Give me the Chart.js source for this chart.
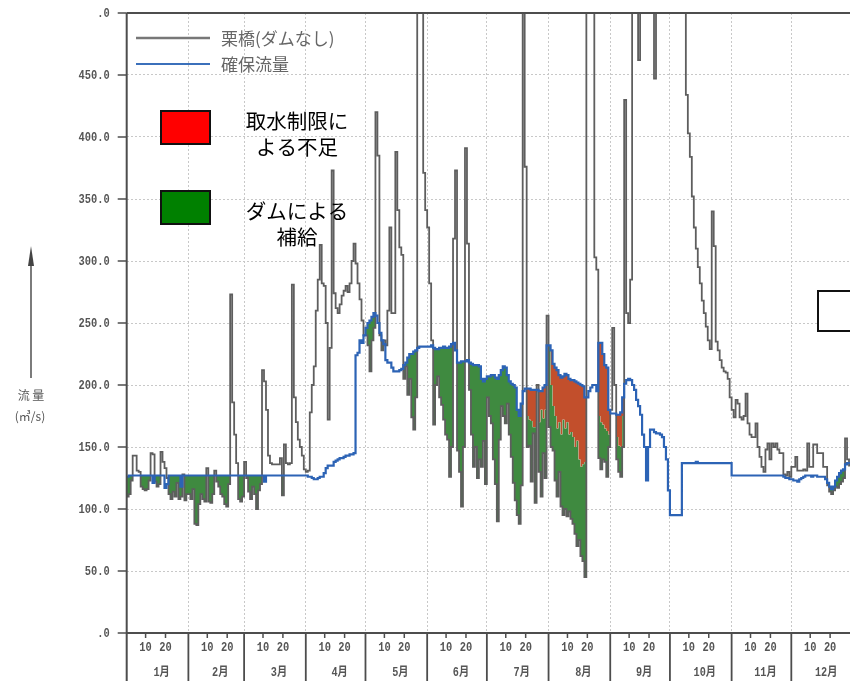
<!DOCTYPE html>
<html lang="ja">
<head>
<meta charset="utf-8">
<title>栗橋地点 流況図</title>
<script src="https://cdn.jsdelivr.net/npm/chart.js@4.4.1/dist/chart.umd.min.js"></script>
<style>
  html, body { margin: 0; padding: 0; background: #fff; overflow: hidden; }
  #wrap { width: 880px; height: 681px; }
</style>
</head>
<body>
<div id="wrap"><canvas id="c" width="880" height="681"></canvas></div>
<script>
// Month table of the x axis
const months = ['1月','2月','3月','4月','5月','6月','7月','8月','9月','10月','11月','12月'];
const monthDays = [31,28,31,30,31,30,31,31,30,31,30,31];
const dayTickLabels = ['10','20'];

// Flow axis (m3/s)
const yTickValues = [0,50,100,150,200,250,300,350,400,450,500];
const yTickLabels = ['.0','50.0','100.0','150.0','200.0','250.0','300.0','350.0','400.0','450.0','.0'];

// Daily flow at Kurihashi without dams, Jan 1 .. Dec 31
const natural = [
  110,112,123,143,143,131,130,118,116,115,116,123,145,144,122,118,120,146,138,133,125,112,108,114,110,121,108,110,128,107,112,
  112,108,116,88,87,104,112,108,106,133,106,105,112,131,122,118,112,110,104,102,120,273,186,160,137,108,106,110,
  138,125,114,108,118,112,100,115,120,212,203,180,143,137,136,136,136,136,141,111,152,137,136,137,281,190,170,156,150,143,132,
  130,131,178,200,215,260,285,313,282,280,250,172,230,373,274,262,258,265,272,276,280,275,282,300,314,298,282,269,252,240,
  240,232,211,236,246,420,385,240,228,236,232,260,327,258,258,388,341,311,305,205,215,192,205,174,164,190,600,600,560,371,341,
  327,282,236,168,200,207,190,184,172,160,156,126,150,318,373,147,130,102,150,391,314,196,160,134,150,125,140,134,155,120,
  190,175,169,140,120,90,156,183,175,169,185,160,142,121,107,95,88,119,600,376,150,151,122,161,105,200,130,110,145,125,256,
  166,150,147,123,110,130,102,95,100,94,98,92,88,80,70,75,62,58,45,560,620,600,540,303,293,141,132,140,138,126,150,
  180,246,200,140,130,126,150,430,258,250,285,600,640,600,462,620,680,700,700,680,650,600,447,560,640,700,700,680,660,640,
  620,600,600,580,560,560,540,520,434,403,384,352,327,310,295,282,268,258,247,236,229,340,312,235,228,220,214,211,210,205,190,
  180,174,188,185,174,172,175,193,169,160,158,158,169,150,142,134,130,148,153,140,153,150,153,148,145,145,128,127,130,126,
  134,134,142,131,131,131,132,131,153,134,134,152,152,145,145,145,134,134,119,114,112,115,118,117,120,122,125,157,140,135,135
];

// Secured (target) flow
const secured = [
  126,127,127,127,127,127,127,127,127,127,127,127,127,121,127,127,127,127,127,117,120,127,127,127,127,127,127,118,127,127,127,
  127,127,127,127,127,127,127,127,127,127,127,127,127,127,127,127,127,127,127,127,127,127,127,127,127,127,127,127,
  127,127,127,127,127,127,127,127,127,127,122,127,127,127,127,127,127,127,127,127,127,127,127,127,127,127,127,127,127,127,127,
  127,126,126,125,124,124,125,126,126,129,133,135,135,135,138,139,140,141,141,142,143,143,144,144,145,224,226,236,234,240,
  246,250,252,255,258,256,250,242,236,233,220,218,218,214,211,211,211,212,213,216,218,222,225,225,227,228,230,231,231,231,231,
  231,231,232,230,229,229,230,230,231,230,230,231,233,234,228,218,218,219,219,219,220,218,217,216,216,216,215,205,203,205,
  207,207,208,208,206,205,208,212,215,214,208,203,201,200,198,180,175,185,195,197,197,197,196,196,196,196,195,195,198,200,232,
  232,228,217,214,212,208,206,207,209,208,205,204,204,203,202,201,200,199,190,190,195,198,200,200,195,234,234,225,216,214,180,
  177,177,177,176,176,178,190,201,204,205,204,200,196,188,183,176,160,150,123,150,164,164,162,161,161,160,158,150,140,115,
  95,95,95,95,95,95,137,137,137,137,137,137,137,138,137,137,137,137,137,137,137,137,137,137,137,137,137,137,137,137,137,
  127,127,127,127,127,127,127,127,127,127,127,127,127,127,127,127,127,127,127,127,127,127,127,127,127,127,126,125,125,124,
  124,123,123,122,124,125,126,127,127,127,126,127,127,126,126,126,126,124,121,118,116,118,123,126,129,131,132,136,137,137,137
];

// Shortfall left by intake restriction (part of the gap not covered by dam release)
const shortage = [
  0,0,0,0,0,0,0,0,0,0,0,0,0,0,0,0,0,0,0,0,0,0,0,0,0,0,0,0,0,0,0,
  0,0,0,0,0,0,0,0,0,0,0,0,0,0,0,0,0,0,0,0,0,0,0,0,0,0,0,0,
  0,0,0,0,0,0,0,0,0,0,0,0,0,0,0,0,0,0,0,0,0,0,0,0,0,0,0,0,0,0,0,
  0,0,0,0,0,0,0,0,0,0,0,0,0,0,0,0,0,0,0,0,0,0,0,0,0,0,0,0,0,0,
  0,0,0,0,0,0,0,0,0,0,0,0,0,0,0,0,0,0,0,0,0,0,0,0,0,0,0,0,0,0,0,
  0,0,0,0,0,0,0,0,0,0,0,0,0,0,0,0,0,0,0,0,0,0,0,0,0,0,0,0,0,0,
  0,0,0,0,0,0,0,0,0,0,0,0,0,0,0,0,0,0,0,0,22,25,25,30,30,0,25,15,25,20,0,
  0,28,34,39,47,38,46,35,44,38,45,42,46,53,47,61,66,63,52,0,0,0,0,0,0,59,64,57,51,51,20,
  0,0,0,18,25,28,15,0,0,0,0,0,0,0,0,0,0,0,0,0,0,0,0,0,0,0,0,0,0,0,
  0,0,0,0,0,0,0,0,0,0,0,0,0,0,0,0,0,0,0,0,0,0,0,0,0,0,0,0,0,0,0,
  0,0,0,0,0,0,0,0,0,0,0,0,0,0,0,0,0,0,0,0,0,0,0,0,0,0,0,0,0,0,
  0,0,0,0,0,0,0,0,0,0,0,0,0,0,0,0,0,0,0,0,0,0,0,0,0,0,0,0,0,0,0
];

const GRAY = '#5e5e5e';
const BLUE = '#2c63b5';
const GREEN = '#3f8a40';
const RED = '#c24f2c';

// Month start days (0-based day of year)
const monthStarts = [];
monthDays.reduce((acc, n) => { monthStarts.push(acc); return acc + n; }, 0);
monthStarts.push(365);

// Upper edge of the dam-supply band: natural flow lifted toward the target,
// short of it by the restriction shortfall
const supplyTop = natural.map((n, i) =>
  n < secured[i] ? Math.max(n, secured[i] - shortage[i]) : n);

// Step points: each day's value holds from day i to day i+1
const steps = arr => arr.map((v, i) => ({x: i, y: v}))
  .concat([{x: arr.length, y: arr[arr.length - 1]}]);

function condensedText(ctx, text, x, y, align, sx) {
  ctx.save();
  ctx.translate(x, y);
  ctx.scale(sx, 1);
  ctx.textAlign = align;
  ctx.fillText(text, 0, 0);
  ctx.restore();
}

function seg(ctx, x1, y1, x2, y2) {
  ctx.beginPath(); ctx.moveTo(x1, y1); ctx.lineTo(x2, y2); ctx.stroke();
}

const decor = {
  id: 'decor',
  afterDraw(chart) {
    const {ctx, chartArea: a, scales: {x, y}} = chart;
    const H = chart.height;
    ctx.save();
    ctx.lineCap = 'butt';

    // frame: top edge and left axis running down through the month table
    ctx.strokeStyle = '#4d4d4d';
    ctx.lineWidth = 2;
    seg(ctx, a.left, a.top, a.right, a.top);
    seg(ctx, a.left, a.top, a.left, H);

    // y ticks and labels
    ctx.fillStyle = '#555';
    ctx.font = 'bold 13px "Liberation Mono"';
    ctx.textBaseline = 'middle';
    ctx.lineWidth = 1.5;
    yTickValues.forEach((v, i) => {
      const py = y.getPixelForValue(v);
      seg(ctx, a.left - 9, py, a.left, py);
      condensedText(ctx, yTickLabels[i], a.left - 17, py + 1, 'right', 0.8);
    });

    // x table: 10/20 ticks, month separators, month names
    monthDays.forEach((n, m) => {
      const s = monthStarts[m];
      [9.5, 19.5].forEach((off, k) => {
        const px = x.getPixelForValue(s + off);
        ctx.lineWidth = 1.5;
        seg(ctx, px, a.bottom, px, a.bottom + 5);
        ctx.font = 'bold 13px "Liberation Mono"';
        condensedText(ctx, dayTickLabels[k], px, a.bottom + 15, 'center', 0.8);
      });
      const pxEnd = x.getPixelForValue(monthStarts[m + 1]);
      ctx.lineWidth = 1.8;
      seg(ctx, pxEnd, a.bottom, pxEnd, H);
      const pc = (x.getPixelForValue(s) + pxEnd) / 2 + 4;
      ctx.font = 'bold 12px "Liberation Mono", "Noto Sans CJK JP"';
      condensedText(ctx, months[m], pc, a.bottom + 40, 'center', 0.85);
    });

    // axis title with arrow
    ctx.strokeStyle = '#444';
    ctx.fillStyle = '#444';
    ctx.lineWidth = 1.4;
    seg(ctx, 31, 378, 31, 258);
    ctx.beginPath();
    ctx.moveTo(31, 246); ctx.lineTo(34, 266); ctx.lineTo(28, 266); ctx.closePath(); ctx.fill();
    ctx.fillStyle = '#555';
    ctx.font = '12px "Noto Sans CJK JP"';
    ctx.textAlign = 'center';
    ctx.fillText('流 量', 31, 395);
    ctx.fillText('(㎥/s)', 30, 416);

    // legend: lines
    ctx.lineWidth = 2.4;
    ctx.strokeStyle = '#777';
    seg(ctx, 136, 38, 210, 38);
    ctx.lineWidth = 2;
    ctx.strokeStyle = '#3b70bb';
    seg(ctx, 136, 64, 210, 64);
    ctx.fillStyle = '#666';
    ctx.font = '17px "Noto Sans CJK JP"';
    ctx.textAlign = 'left';
    ctx.fillText(chart.data.datasets[0].label, 221, 39);
    ctx.fillText(chart.data.datasets[2].label, 221, 65);

    // legend: areas
    ctx.lineWidth = 2;
    ctx.strokeStyle = '#111';
    ctx.fillStyle = '#ff0000';
    ctx.fillRect(161, 111, 49, 33); ctx.strokeRect(161, 111, 49, 33);
    ctx.fillStyle = '#008000';
    ctx.fillRect(161, 191, 49, 33); ctx.strokeRect(161, 191, 49, 33);
    ctx.fillStyle = '#000';
    ctx.font = '20.5px "Noto Sans CJK JP"';
    ctx.textAlign = 'center';
    ctx.fillText('取水制限に', 297, 121);
    ctx.fillText('よる不足', 297, 147);
    ctx.fillText('ダムによる', 297, 211);
    ctx.fillText('補給', 297, 237);

    // empty label box at the right edge
    ctx.fillStyle = '#fff';
    ctx.fillRect(818, 291, 60, 40);
    ctx.lineWidth = 2;
    ctx.strokeStyle = '#111';
    ctx.strokeRect(818, 291, 60, 40);

    ctx.restore();
  }
};

new Chart(document.getElementById('c'), {
  type: 'line',
  data: {
    datasets: [
      {
        label: '栗橋(ダムなし)',
        data: steps(natural),
        borderColor: GRAY,
        borderWidth: 1.8,
        stepped: true,
        pointRadius: 0,
        fill: false,
        order: 1
      },
      {
        label: 'ダムによる補給',
        data: steps(supplyTop),
        borderColor: 'rgba(0,0,0,0)',
        borderWidth: 0,
        stepped: true,
        pointRadius: 0,
        fill: {target: 0, above: GREEN, below: 'rgba(0,0,0,0)'},
        order: 2
      },
      {
        label: '確保流量',
        data: steps(secured),
        borderColor: BLUE,
        borderWidth: 2.2,
        stepped: true,
        pointRadius: 0,
        fill: {target: 1, above: RED, below: 'rgba(0,0,0,0)'},
        order: 0
      }
    ]
  },
  options: {
    responsive: false,
    animation: false,
    devicePixelRatio: 1,
    events: [],
    layout: {padding: {top: 13, right: 27, left: 0, bottom: 0}},
    plugins: {
      legend: {display: false},
      tooltip: {enabled: false},
      filler: {drawTime: 'beforeDatasetsDraw'}
    },
    scales: {
      x: {
        type: 'linear',
        min: 0,
        max: 365,
        afterBuildTicks: s => { s.ticks = monthStarts.map(v => ({value: v})); },
        afterFit: s => { s.height = 48; },
        ticks: {display: false},
        grid: {color: '#c8c8c8', lineWidth: 1, drawTicks: false},
        border: {display: true, color: '#4d4d4d', width: 2, dash: [2, 2]}
      },
      y: {
        min: 0,
        max: 500,
        afterBuildTicks: s => { s.ticks = yTickValues.map(v => ({value: v})); },
        afterFit: s => { s.width = 126.7; },
        ticks: {display: false},
        grid: {color: '#c8c8c8', lineWidth: 1, drawTicks: false},
        border: {display: false, dash: [2, 2]}
      }
    }
  },
  plugins: [decor]
});
</script>
</body>
</html>
